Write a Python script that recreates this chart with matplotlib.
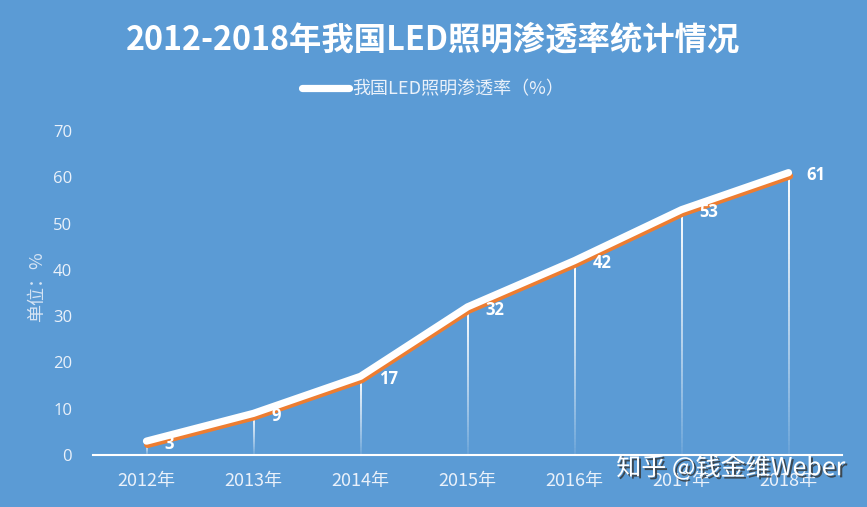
import matplotlib
matplotlib.use("Agg")
import matplotlib.pyplot as plt
import matplotlib.patheffects as pe
from matplotlib.collections import LineCollection
import numpy as np

years = ["2012年", "2013年", "2014年", "2015年", "2016年", "2017年", "2018年"]
values = [3, 9, 17, 32, 42, 53, 61]
yticks = [0, 10, 20, 30, 40, 50, 60, 70]

BG = "#5B9BD5"
ORANGE = "#ED7D31"
LIGHT = "#EAF1FA"
CJK = ["Noto Sans CJK SC", "DejaVu Sans"]

fig = plt.figure(figsize=(8.67, 5.07), dpi=100, facecolor=BG)
ax = fig.add_axes([93/867, 52/507, 749/867, 324/507])
ax.set_facecolor(BG)

x = np.arange(len(values))
ax.set_xlim(-0.5, len(values) - 0.5)
ax.set_ylim(0, 70)

# drop lines with fading gradient
for xi, v in zip(x, values):
    ys = np.linspace(0, v, 60)
    segs = [[(xi, ys[i]), (xi, ys[i + 1])] for i in range(len(ys) - 1)]
    alphas = np.linspace(0.05, 1.0, len(segs)) ** 0.8
    cols = [(1, 1, 1, a) for a in alphas]
    ax.add_collection(LineCollection(segs, colors=cols, linewidths=1.4, zorder=2))

line, = ax.plot(x, values, color="white", lw=5.2, solid_capstyle="round",
                solid_joinstyle="round", zorder=4,
                label="我国LED照明渗透率（%）",
                path_effects=[pe.SimpleLineShadow(offset=(0.8, -2.4), shadow_color=ORANGE,
                                                  alpha=1.0),
                              pe.Normal()])

for xi, v in zip(x, values):
    ax.annotate(str(v), (xi, v), xytext=(13, -2), textcoords="offset points",
                ha="left", va="center", color="white", fontsize=12,
                fontweight="bold", family=["Open Sans", "DejaVu Sans"], zorder=5)

ax.set_xticks(x)
ax.set_xticklabels(years, family=CJK, fontsize=13, color=LIGHT)
ax.set_yticks(yticks)
ax.set_yticklabels([str(t) for t in yticks], family=["Open Sans", "DejaVu Sans"],
                   fontsize=12, color=LIGHT)
ax.tick_params(axis="both", length=0)
ax.tick_params(axis="x", pad=12)
ax.tick_params(axis="y", pad=15)
for s in ["top", "right", "left"]:
    ax.spines[s].set_visible(False)
ax.spines["bottom"].set_color("white")
ax.spines["bottom"].set_linewidth(1.5)

ax.set_ylabel("单位：%", family=CJK, fontsize=13, color="#D6E4F4")
ax.yaxis.set_label_coords(-0.063, 0.52)

fig.text(433/867, 1 - 40/507, "2012-2018年我国LED照明渗透率统计情况", family=CJK,
         fontsize=23.3, fontweight="bold", color="white", ha="center", va="center")

leg = fig.legend(handles=[line], loc="center", bbox_to_anchor=(433/867, 1 - 89/507),
                 frameon=False, prop={"family": CJK, "size": 13},
                 handlelength=2.6, handletextpad=0.2, labelcolor=LIGHT)
leg.get_lines()[0].set_path_effects([pe.Normal()])

fig.text(845/867, 1 - 468/507, "知乎 @钱金维Weber", family=CJK, fontsize=18,
         color="white", ha="right", va="center",
         path_effects=[pe.withSimplePatchShadow(offset=(1.5, -1.5), shadow_rgbFace="#333333", alpha=0.8)])

fig.savefig("out.png", dpi=100, facecolor=BG)
